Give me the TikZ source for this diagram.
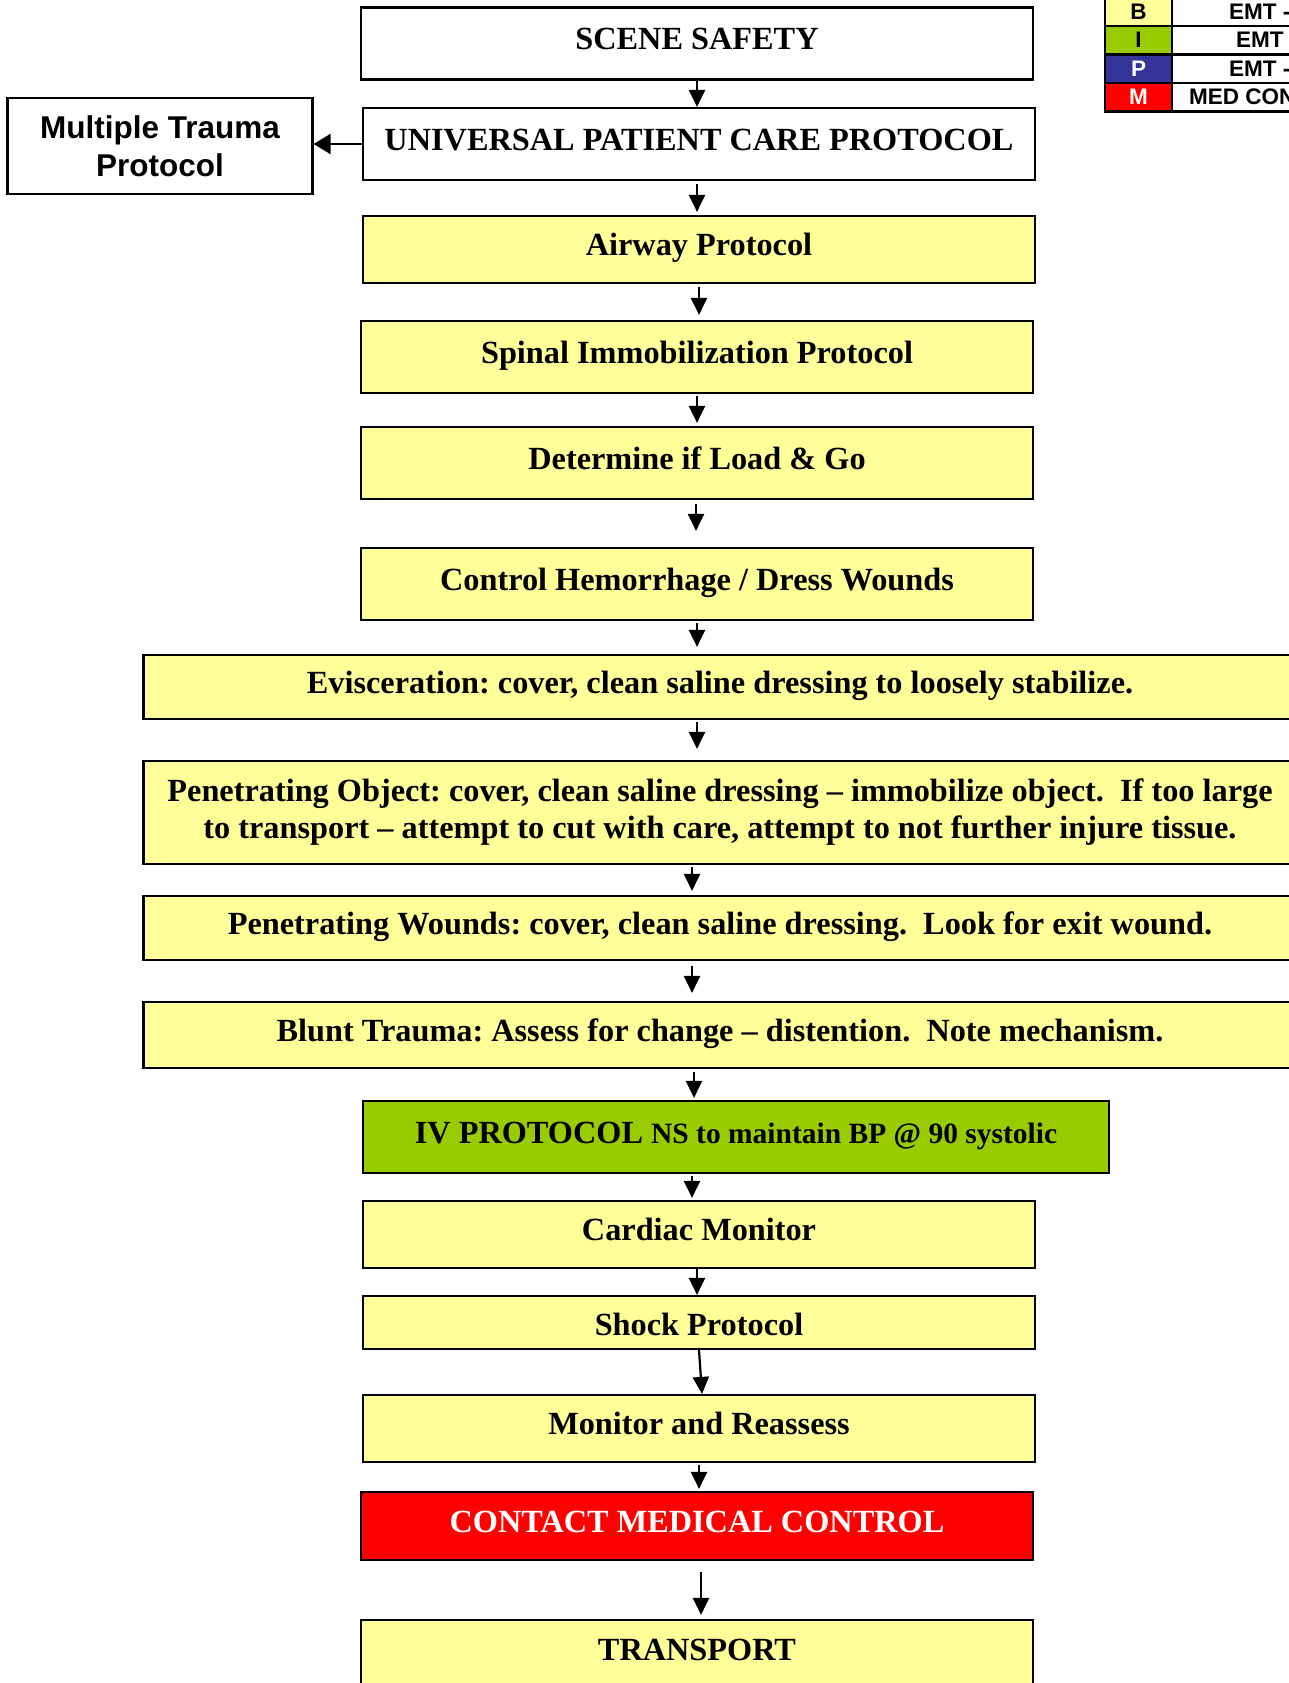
\documentclass[tikz,border=0pt]{standalone}
\usepackage{fontspec}
\setmainfont{Liberation Serif}
\newfontfamily\arialfont{Liberation Sans}
\usetikzlibrary{arrows.meta}

\definecolor{boxyellow}{HTML}{FFFF99}
\definecolor{ivgreen}{HTML}{99CC00}
\definecolor{mcred}{HTML}{FF0000}
\definecolor{parablue}{HTML}{333399}

\begin{document}
\frenchspacing
\begin{tikzpicture}[x=1pt,y=-1pt,
  flow/.style={draw=black, line width=2.2pt, rectangle, inner sep=0pt, align=center,
    font=\fontsize{32.3}{37}\selectfont\bfseries, text height=22pt, text depth=10pt},
  plainbox/.style={flow, fill=white},
  yellowbox/.style={flow, fill=boxyellow},
  narrowbox/.style={minimum width=672pt},
  widebox/.style={minimum width=1153pt},
  arr/.style={line width=2.2pt, -{Triangle[length=17pt,width=16pt]}},
  legcell/.style={draw=black, line width=2.6pt},
  legtext/.style={inner sep=0pt, font=\arialfont\fontsize{22.5}{26}\selectfont\bfseries}
]
\useasboundingbox (0,0) rectangle (1289,1683);
\clip (0,0) rectangle (1289,1683);

% main flow boxes
\node[plainbox, narrowbox, minimum height=72pt] (scene) at (697,43.5) {SCENE SAFETY};
\node[plainbox, narrowbox, minimum height=72pt] (upcp) at (699,144) {UNIVERSAL PATIENT CARE PROTOCOL};
\node[plainbox, minimum width=305pt, minimum height=96pt, text height=, text depth=,
      font=\arialfont\fontsize{31.5}{37.6}\selectfont\bfseries] (multi) at (160,146)
      {Multiple Trauma\\Protocol};
\node[yellowbox, narrowbox, minimum height=67pt] (airway) at (699,249.5) {Airway Protocol};
\node[yellowbox, narrowbox, minimum height=72pt] (spinal) at (697,357) {Spinal Immobilization Protocol};
\node[yellowbox, narrowbox, minimum height=72pt] (determine) at (697,463) {Determine if Load \& Go};
\node[yellowbox, narrowbox, minimum height=72pt] (control) at (697,584) {Control Hemorrhage / Dress Wounds};
\node[yellowbox, widebox, minimum height=64pt] (evisc) at (720,687)
  {Evisceration: cover, clean saline dressing to loosely stabilize.};
\node[yellowbox, widebox, minimum height=103pt, text height=, text depth=] (penobj) at (720,812.5)
  {Penetrating Object: cover, clean saline dressing -- immobilize object.\ \ If too large\\
   to transport -- attempt to cut with care, attempt to not further injure tissue.};
\node[yellowbox, widebox, minimum height=64pt] (penw) at (720,928)
  {Penetrating Wounds: cover, clean saline dressing.\ \ Look for exit wound.};
\node[yellowbox, widebox, minimum height=66pt] (blunt) at (720,1035)
  {Blunt Trauma: Assess for change -- distention.\ \ Note mechanism.};
\node[flow, fill=ivgreen, minimum width=746pt, minimum height=72pt] (iv) at (736,1137)
  {IV PROTOCOL {\fontsize{29.5}{34}\selectfont NS to maintain BP @ 90 systolic}};
\node[yellowbox, narrowbox, minimum height=67pt] (cardiac) at (699,1234.5) {Cardiac Monitor};
\node[yellowbox, narrowbox, minimum height=53pt, text height=28pt, text depth=2pt] (shock) at (699,1322.5) {Shock Protocol};
\node[yellowbox, narrowbox, minimum height=67pt] (monitor) at (699,1428.5) {Monitor and Reassess};
\node[flow, fill=mcred, text=white, narrowbox, minimum height=68pt] (contact) at (697,1526) {CONTACT MEDICAL CONTROL};
\node[yellowbox, narrowbox, minimum height=72pt, text height=22pt, text depth=14pt] (transport) at (697,1656) {TRANSPORT};

% connectors
\draw[arr] (scene.south) -- (scene.south |- upcp.north);
\draw[arr, shorten <=3pt, shorten >=3pt] ([xshift=-2pt]upcp.south) -- ([xshift=-2pt]upcp.south |- airway.north);
\draw[arr, shorten <=3pt, shorten >=5pt] (airway.south) -- (airway.south |- spinal.north);
\draw[arr, shorten <=2pt, shorten >=3pt] (spinal.south) -- (spinal.south |- determine.north);
\draw[arr, shorten <=4pt, shorten >=16pt] ([xshift=-1pt]determine.south) -- ([xshift=-1pt]determine.south |- control.north);
\draw[arr, shorten <=2pt, shorten >=7pt] (control.south) -- (control.south |- evisc.north);
\draw[arr, shorten <=2pt, shorten >=11pt] ([xshift=-23pt]evisc.south) -- ([xshift=-23pt]evisc.south |- penobj.north);
\draw[arr, shorten <=2pt, shorten >=4pt] ([xshift=-28pt]penobj.south) -- ([xshift=-28pt]penobj.south |- penw.north);
\draw[arr, shorten <=5pt, shorten >=8pt] ([xshift=-28pt]penw.south) -- ([xshift=-28pt]penw.south |- blunt.north);
\draw[arr, shorten <=3pt, shorten >=2pt] ([xshift=-26pt]blunt.south) -- ([xshift=-26pt]blunt.south |- iv.north);
\draw[arr, shorten <=2pt, shorten >=2pt] ([xshift=-44pt]iv.south) -- ([xshift=-44pt]iv.south |- cardiac.north);
\draw[arr] ([xshift=-2pt]cardiac.south) -- ([xshift=-2pt]cardiac.south |- shock.north);
\draw[arr] (shock.south) -- ([xshift=3pt]monitor.north);
\draw[arr, shorten <=2pt, shorten >=2pt] (monitor.south) -- (monitor.south |- contact.north);
\draw[arr, shorten <=11pt, shorten >=4pt] ([xshift=4pt]contact.south) -- ([xshift=4pt]contact.south |- transport.north);
\draw[line width=2.2pt, -{Triangle[length=17pt,width=20pt]}] (upcp.west) -- (upcp.west -| multi.east);

% certification level key
\path[legcell, fill=boxyellow] (1105,-3) rectangle (1172,26);
\path[legcell, fill=ivgreen] (1105,26) rectangle (1172,54.5);
\path[legcell, fill=parablue] (1105,54.5) rectangle (1172,83);
\path[legcell, fill=mcred] (1105,83) rectangle (1172,111.5);
\path[legcell, fill=white] (1172,-3) rectangle (1310,26);
\path[legcell, fill=white] (1172,26) rectangle (1310,54.5);
\path[legcell, fill=white] (1172,54.5) rectangle (1310,83);
\path[legcell, fill=white] (1172,83) rectangle (1310,111.5);
\node[legtext] (keyb) at (1138.5,12) {B};
\node[legtext] (keyi) at (1138.5,40) {I};
\node[legtext, text=white] (keyp) at (1138.5,68.5) {P};
\node[legtext, text=white] (keym) at (1138.5,97) {M};
\node[legtext, anchor=west] (keybt) at (1229,12) {EMT -};
\node[legtext, anchor=west] (keyit) at (1236,40) {EMT};
\node[legtext, anchor=west] (keypt) at (1229,68.5) {EMT -};
\node[legtext, anchor=west] (keymt) at (1189,97) {MED CONTROL};
\end{tikzpicture}
\end{document}
